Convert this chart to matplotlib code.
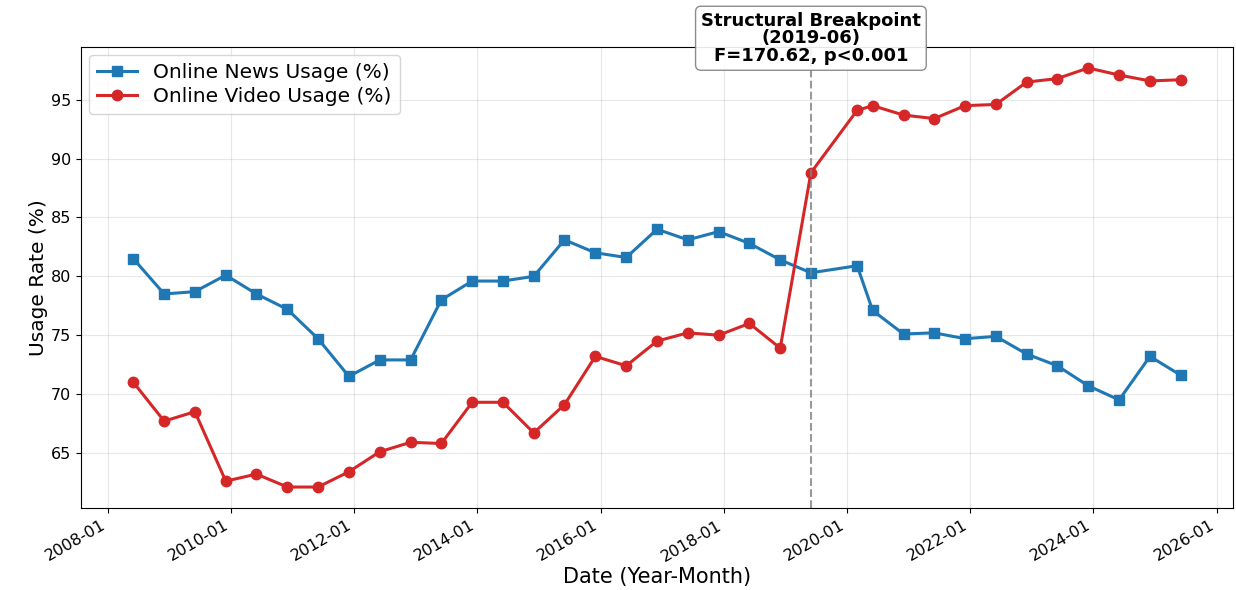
import matplotlib
matplotlib.use("Agg")
import matplotlib.pyplot as plt
import matplotlib.dates as mdates
import matplotlib.transforms as mtransforms
import pandas as pd

dates = ["2008-06", "2008-12", "2009-06", "2009-12", "2010-06", "2010-12",
         "2011-06", "2011-12", "2012-06", "2012-12", "2013-06", "2013-12",
         "2014-06", "2014-12", "2015-06", "2015-12", "2016-06", "2016-12",
         "2017-06", "2017-12", "2018-06", "2018-12", "2019-06", "2020-03",
         "2020-06", "2020-12", "2021-06", "2021-12", "2022-06", "2022-12",
         "2023-06", "2023-12", "2024-06", "2024-12", "2025-06"]

news_usage = [81.5, 78.5, 78.7, 80.1, 78.5, 77.2, 74.7, 71.5, 72.9, 72.9,
              78.0, 79.6, 79.6, 80.0, 83.1, 82.0, 81.6, 84.0, 83.1, 83.8,
              82.8, 81.4, 80.3, 80.9, 77.1, 75.1, 75.2, 74.7, 74.9, 73.4,
              72.4, 70.7, 69.5, 73.2, 71.6]

video_usage = [71.0, 67.7, 68.5, 62.6, 63.2, 62.1, 62.1, 63.4, 65.1, 65.9,
               65.8, 69.3, 69.3, 66.7, 69.1, 73.2, 72.4, 74.5, 75.2, 75.0,
               76.0, 73.9, 88.8, 94.1, 94.5, 93.7, 93.4, 94.5, 94.6, 96.5,
               96.8, 97.7, 97.1, 96.6, 96.7]

breakpoint_date = "2019-06"
f_stat = 170.62

x = pd.to_datetime(dates)
bp = pd.to_datetime(breakpoint_date)

fig, ax = plt.subplots(figsize=(12.36, 5.9), dpi=100)
fig.subplots_adjust(left=0.0655, right=0.9976, top=0.9203, bottom=0.139)

ax.plot(x, news_usage, marker="s", color="#1f77b4", linewidth=2.2,
        markersize=7.5, label="Online News Usage (%)")
ax.plot(x, video_usage, marker="o", color="#d62728", linewidth=2.2,
        markersize=7.5, label="Online Video Usage (%)")

ax.axvline(bp, color="gray", linestyle="--", linewidth=1.5, alpha=0.8)

trans = mtransforms.blended_transform_factory(ax.transData, ax.transAxes)
ax.text(bp, 1.019, f"Structural Breakpoint\n({breakpoint_date})\nF={f_stat:.2f}, p<0.001",
        transform=trans, ha="center", va="center", fontsize=13,
        fontweight="bold", linespacing=0.97,
        bbox=dict(boxstyle="round,pad=0.3", facecolor="white",
                  edgecolor="gray", alpha=0.9))

ax.xaxis.set_major_locator(mdates.YearLocator(2))
ax.xaxis.set_major_formatter(mdates.DateFormatter("%Y-%m"))
for lbl in ax.get_xticklabels():
    lbl.set_rotation(30)
    lbl.set_ha("right")

ax.tick_params(axis="x", labelsize=11.5)
ax.tick_params(axis="y", labelsize=11.5)
ax.set_xlabel("Date (Year-Month)", fontsize=15, labelpad=2)
ax.set_ylabel("Usage Rate (%)", fontsize=14.5, labelpad=2)
ax.grid(True, alpha=0.3)
ax.legend(loc="upper left", fontsize=14.5, labelspacing=0.25,
          borderaxespad=0.4, handlelength=2.0)

fig.savefig("out.png", dpi=100)
